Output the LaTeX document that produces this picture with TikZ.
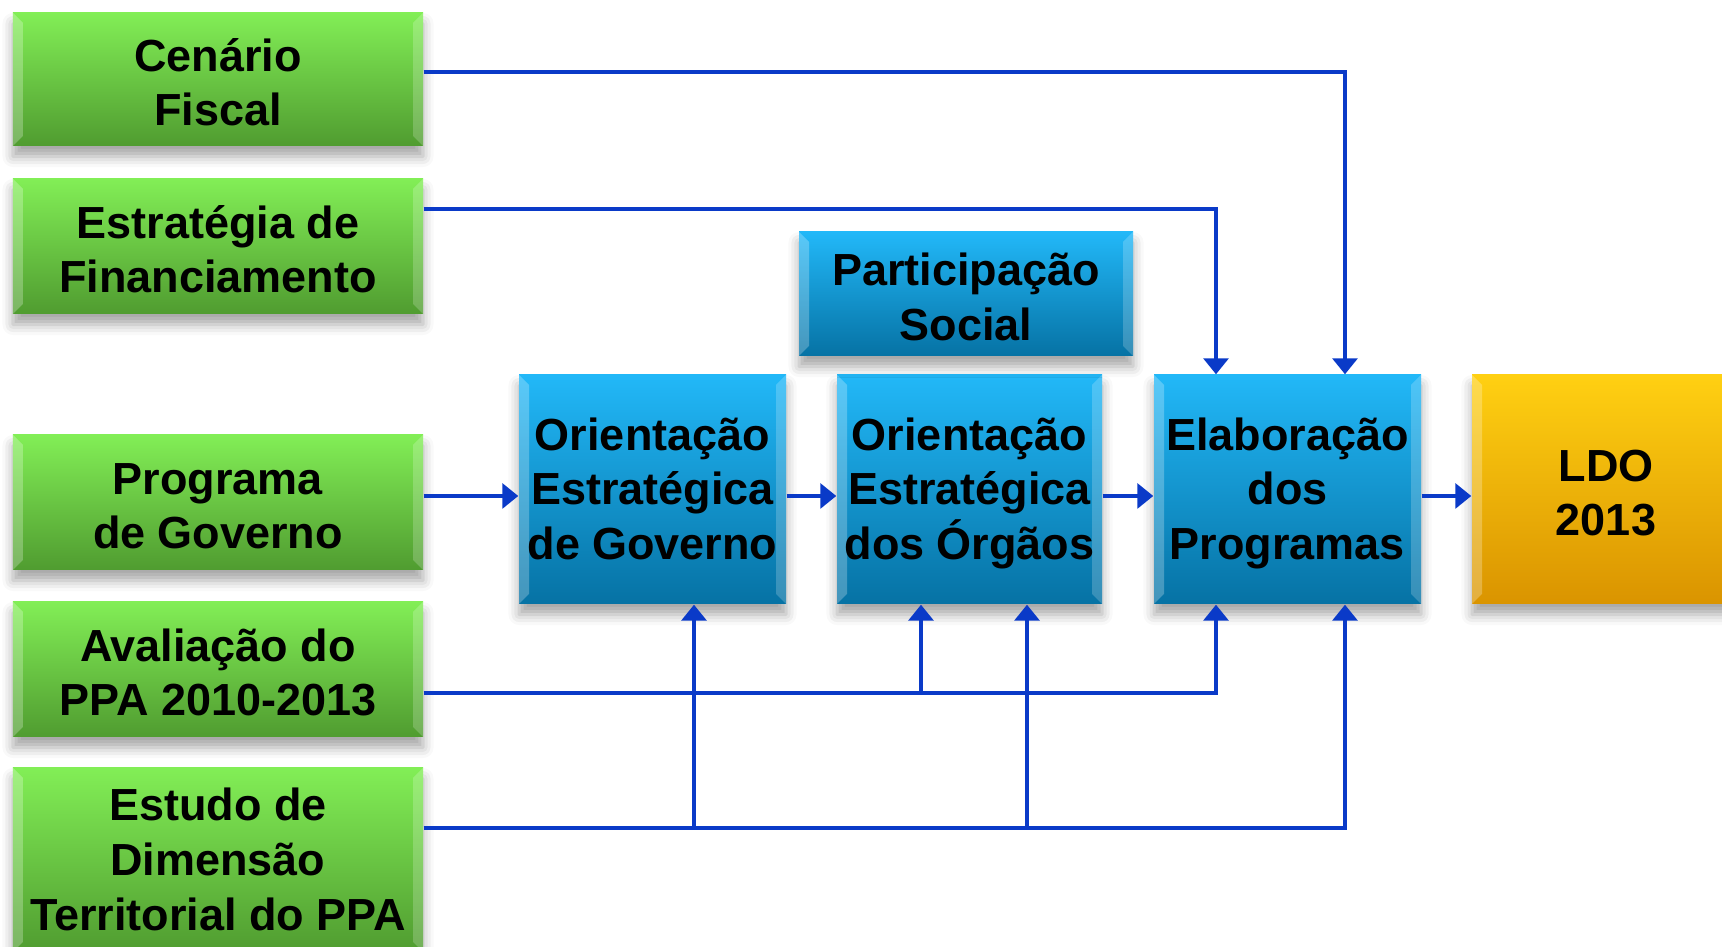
\documentclass[tikz,border=0pt]{standalone}
\usepackage{fontspec}
\setmainfont{Liberation Sans}
\usetikzlibrary{arrows.meta,shadows.blur}

\definecolor{greentop}{RGB}{130,238,86}
\definecolor{greenbot}{RGB}{80,156,48}
\definecolor{bluetop}{RGB}{34,184,248}
\definecolor{bluebot}{RGB}{6,114,164}
\definecolor{goldtop}{RGB}{255,208,18}
\definecolor{goldbot}{RGB}{218,148,0}
\definecolor{linkblue}{RGB}{10,58,200}

\tikzset{
  box/.style={rectangle, inner sep=0pt, align=center,
    font=\fontsize{12.8}{15.6}\selectfont\bfseries,
    blur shadow={shadow xshift=0pt, shadow yshift=-3pt, shadow blur radius=3pt, shadow opacity=35},
    path picture={
      \fill[white,opacity=0.25] (path picture bounding box.south west) -- (path picture bounding box.north west)
        -- ([shift={(0.1,-0.1)}]path picture bounding box.north west) -- ([shift={(0.1,0.1)}]path picture bounding box.south west) -- cycle;
      \fill[white,opacity=0.2] (path picture bounding box.south east) -- (path picture bounding box.north east)
        -- ([shift={(-0.1,-0.1)}]path picture bounding box.north east) -- ([shift={(-0.1,0.1)}]path picture bounding box.south east) -- cycle;
    }},
  twoline/.style={text height=26.4pt, text depth=0pt},
  threeline/.style={text height=40pt, text depth=0pt},
  inbox/.style={box, twoline, top color=greentop, bottom color=greenbot, minimum width=4.10cm, minimum height=1.35cm},
  stagebox/.style={box, threeline, top color=bluetop, bottom color=bluebot, minimum width=2.67cm, minimum height=2.29cm},
  outbox/.style={box, twoline, top color=goldtop, bottom color=goldbot, minimum width=2.68cm, minimum height=2.29cm},
  flow/.style={draw=linkblue, line width=1pt, -{Triangle[width=7pt,length=4.5pt]}},
}

\begin{document}
\begin{tikzpicture}
  \useasboundingbox (0,0) rectangle (17.22,9.47);

  % inputs
  \node[inbox, minimum height=1.33cm] (cen) at (2.18,8.675) {Cenário\\Fiscal};
  \node[inbox] (est) at (2.18,7.005) {Estratégia de\\Financiamento};
  \node[inbox] (prog) at (2.18,4.445) {Programa\\de Governo};
  \node[inbox] (aval) at (2.18,2.775) {Avaliação do\\PPA 2010-2013};
  \node[inbox, threeline, minimum height=1.84cm] (estudo) at (2.18,0.87) {Estudo de\\Dimensão\\Territorial do PPA};

  % stages
  \node[stagebox] (oeg) at (6.525,4.575) {Orientação\\Estratégica\\de Governo};
  \node[stagebox, minimum width=2.65cm] (oeo) at (9.695,4.575) {Orientação\\Estratégica\\dos Órgãos};
  \node[stagebox] (ep) at (12.875,4.575) {Elaboração\\dos\\Programas};
  \node[stagebox, twoline, minimum width=3.34cm, minimum height=1.24cm] (part) at (9.66,6.53) {Participação\\Social};
  \node[outbox] (ldo) at (16.06,4.575) {LDO\\2013};

  % main chain
  \draw[flow] (prog.east |- 0,4.51) -- (oeg.west |- 0,4.51);
  \draw[flow] (oeg.east |- 0,4.51) -- (oeo.west |- 0,4.51);
  \draw[flow] (oeo.east |- 0,4.51) -- (ep.west |- 0,4.51);
  \draw[flow] (ep.east |- 0,4.51) -- (ldo.west |- 0,4.51);

  % from above
  \draw[flow] (cen.east |- 0,8.75) -| (13.45,0 |- ep.north);
  \draw[flow] (est.east |- 0,7.38) -| (12.16,0 |- ep.north);

  % from below
  \draw[flow] (aval.east |- 0,2.54) -| (12.16,0 |- ep.south);
  \draw[flow] (9.21,2.54) -- (9.21,0 |- oeo.south);
  \draw[flow] (estudo.east |- 0,1.19) -| (13.45,0 |- ep.south);
  \draw[flow] (6.94,1.19) -- (6.94,0 |- oeg.south);
  \draw[flow] (10.27,1.19) -- (10.27,0 |- oeo.south);
\end{tikzpicture}
\end{document}
